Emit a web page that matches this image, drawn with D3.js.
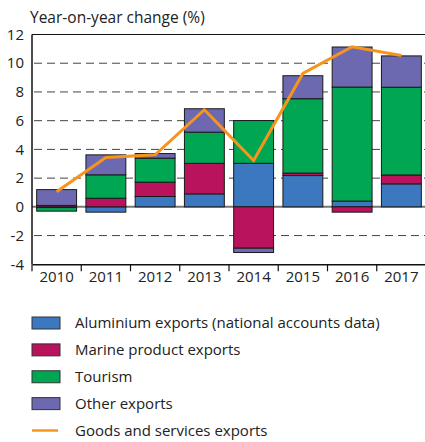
<!DOCTYPE html>
<html>
<head>
<meta charset="utf-8">
<title>Year-on-year change</title>
<style>
  body { margin: 0; background: #fff; }
  svg text { font-family: "Open Sans", sans-serif; fill: #222; }
</style>
</head>
<body>
<svg width="425" height="442"></svg>
<script src="https://cdn.jsdelivr.net/npm/d3@7"></script>
<script>
// data (percentage points)
var years = ["2010", "2011", "2012", "2013", "2014", "2015", "2016", "2017"];
var aluminium = [-0.05, -0.37, 0.72, 0.9, 3.03, 2.18, 0.4, 1.6];
var marine = [0.1, 0.6, 1.0, 2.13, -2.88, 0.17, -0.37, 0.62];
var tourism = [-0.25, 1.63, 1.67, 2.17, 2.98, 5.18, 7.94, 6.11];
var other = [1.1, 1.39, 0.32, 1.63, -0.3, 1.6, 2.79, 2.18];
var total = [1.05, 3.44, 3.62, 6.76, 3.23, 9.29, 11.15, 10.54];
var yTicks = [-4, -2, 0, 2, 4, 6, 8, 10, 12];

var seriesNames = ["Aluminium exports (national accounts data)", "Marine product exports", "Tourism", "Other exports"];
var seriesColors = ["#3b78bf", "#b8135c", "#00a652", "#6d69b0"];
var lineName = "Goods and services exports";
var lineColor = "#f7941d";

var svg = d3.select("svg");
var plotLeft = 32, plotRight = 426, plotTop = 34.5, plotBottom = 264.3;

var x = d3.scaleBand().domain(years).range([plotLeft, plotRight]).paddingInner(0.19).paddingOuter(0.095);
var xb = d3.scaleBand().domain(years).range([plotLeft, plotRight]);
var y = d3.scaleLinear().domain([-4, 12]).range([plotBottom, plotTop]);

// table for stacking
var keys = ["a", "m", "t", "o"];
var table = years.map(function(yr, i) {
  return { year: yr, a: aluminium[i], m: marine[i], t: tourism[i], o: other[i] };
});
var stacked = d3.stack().keys(keys).offset(d3.stackOffsetDiverging)(table);

// gridlines
svg.append("g").selectAll("line")
  .data(yTicks.filter(function(d) { return d !== 0 && d !== 12 && d !== -4; }))
  .enter().append("line")
  .attr("x1", plotLeft + 2).attr("x2", plotRight)
  .attr("y1", function(d) { return y(d); }).attr("y2", function(d) { return y(d); })
  .attr("stroke", "#444").attr("stroke-width", 1)
  .attr("stroke-dasharray", "8,5");

// zero line
svg.append("line")
  .attr("x1", plotLeft).attr("x2", plotRight)
  .attr("y1", y(0)).attr("y2", y(0))
  .attr("stroke", "#777").attr("stroke-width", 2);

// bars
var groups = svg.append("g").selectAll("g")
  .data(stacked).enter().append("g")
  .attr("fill", function(d, i) { return seriesColors[i]; });

groups.selectAll("rect")
  .data(function(d) { return d; })
  .enter().append("rect")
  .attr("x", function(d) { return x(d.data.year); })
  .attr("width", x.bandwidth())
  .attr("y", function(d) { return y(Math.max(d[0], d[1])); })
  .attr("height", function(d) { return Math.abs(y(d[0]) - y(d[1])); })
  .attr("stroke", "#1a1a1a").attr("stroke-width", 1);

// line
var line = d3.line()
  .x(function(d, i) { return x(years[i]) + x.bandwidth() / 2; })
  .y(function(d) { return y(d); });
svg.append("path").datum(total)
  .attr("d", line)
  .attr("fill", "none").attr("stroke", lineColor).attr("stroke-width", 3);

// axes frame
svg.append("line").attr("x1", plotLeft).attr("x2", plotRight).attr("y1", plotTop).attr("y2", plotTop)
  .attr("stroke", "#111").attr("stroke-width", 1.2);
svg.append("line").attr("x1", plotLeft).attr("x2", plotLeft).attr("y1", plotTop).attr("y2", plotBottom)
  .attr("stroke", "#111").attr("stroke-width", 1.5);

var xAxis = svg.append("g")
  .attr("transform", "translate(0," + plotBottom + ")")
  .call(d3.axisBottom(x).tickSize(0).tickPadding(7));
xAxis.select(".domain").attr("stroke", "#111").attr("stroke-width", 1.5);
xAxis.selectAll("text").attr("font-size", 15).attr("font-family", "Open Sans, sans-serif").attr("fill", "#222");

// ticks at category boundaries
svg.append("g").selectAll("line")
  .data(years).enter().append("line")
  .attr("x1", function(d) { return xb(d); }).attr("x2", function(d) { return xb(d); })
  .attr("y1", plotBottom).attr("y2", plotBottom + 7)
  .attr("stroke", "#111").attr("stroke-width", 1.2);

// y labels
svg.append("g").selectAll("text")
  .data(yTicks).enter().append("text")
  .attr("x", plotLeft - 8).attr("y", function(d) { return y(d); })
  .attr("dy", "0.35em").attr("text-anchor", "end")
  .attr("font-size", 15)
  .text(function(d) { return d; });

// title
svg.append("text").attr("x", 30).attr("y", 22.5)
  .attr("font-size", 15.5).text("Year-on-year change (%)");

// legend
var legend = svg.append("g");
var rowY = d3.scaleLinear().domain([0, 4]).range([323, 430.5]);
seriesNames.forEach(function(name, i) {
  legend.append("rect")
    .attr("x", 32).attr("y", rowY(i) - 6).attr("width", 28).attr("height", 12)
    .attr("fill", seriesColors[i]).attr("stroke", "#333").attr("stroke-width", 1);
  legend.append("text").attr("x", 75).attr("y", rowY(i)).attr("dy", "0.35em")
    .attr("font-size", 15).text(name);
});
legend.append("line")
  .attr("x1", 32).attr("x2", 58).attr("y1", rowY(4)).attr("y2", rowY(4))
  .attr("stroke", lineColor).attr("stroke-width", 2.5);
legend.append("text").attr("x", 75).attr("y", rowY(4)).attr("dy", "0.35em")
  .attr("font-size", 15).text(lineName);
</script>
</body>
</html>
